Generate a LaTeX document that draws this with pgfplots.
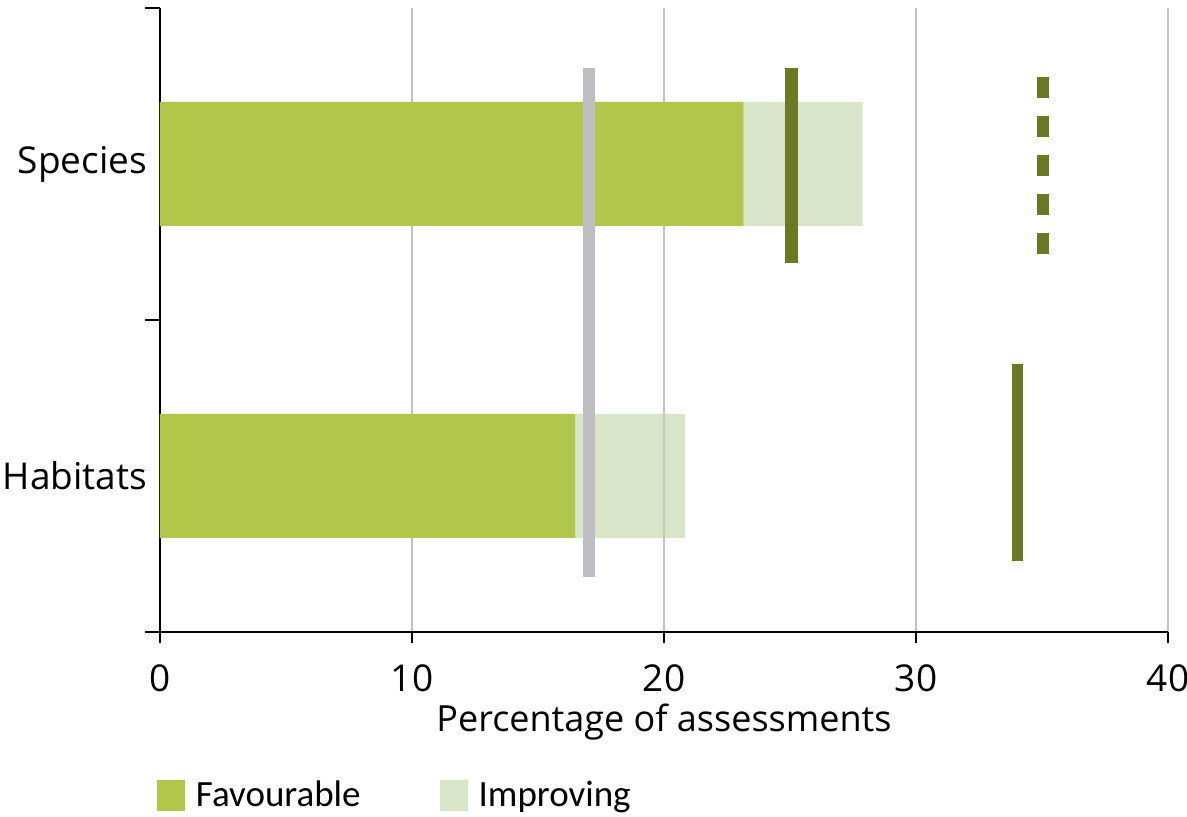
\documentclass[border=0pt]{standalone}
\usepackage{fontspec}
\setmainfont{Open Sans}
\newfontfamily\legfont{Carlito}
\usepackage{pgfplots}
\pgfplotsset{compat=1.18}
\definecolor{fav}{RGB}{178,198,74}
\definecolor{impr}{RGB}{190,212,163}
\definecolor{olive}{RGB}{107,122,34}
\definecolor{lgrey}{RGB}{190,191,194}
\definecolor{gridc}{RGB}{195,195,195}
\begin{document}
\begin{tikzpicture}[font=\fontsize{18.5}{22}\selectfont]
\begin{axis}[
  name=ax, at={(0pt,0pt)}, anchor=south west,
  scale only axis, width=504pt, height=312pt,
  xmin=0, xmax=40, ymin=-0.5, ymax=1.5,
  axis x line*=bottom, axis y line*=left,
  axis line style={black, line width=1pt},
  xtick={0,10,20,30,40},
  ytick={0,1}, yticklabels={Habitats,Species},
  minor ytick={-0.5,0.5,1.5},
  every major y tick/.append style={draw=none},
  tick style={black, line width=1pt},
  tick align=outside,
  major tick length=5.3pt, minor tick length=7.5pt,
  xmajorgrids, major grid style={gridc, line width=1pt},
  /pgf/number format/assume math mode=true,
  xticklabel style={inner sep=0pt, anchor=north, yshift=-10.9pt},
  yticklabel style={inner sep=0pt, anchor=east, xshift=-1pt},
  xlabel={\fontsize{18}{22}\selectfont Percentage of assessments},
  xlabel style={at={(axis description cs:0.5,0)}, anchor=base, yshift=-49.85pt, inner sep=0pt},
  legend image code/.code={\fill[#1] (0pt,-7.75pt) rectangle (14pt,7.75pt);},
  legend style={draw=none, fill=none, inner sep=0pt, outer sep=0pt,
    legend columns=2, font=\legfont\fontsize{18.5}{22}\selectfont,
    at={(axis description cs:0,0)}, anchor=west, xshift=-1.5pt, yshift=-81.5pt,
    nodes={inner sep=0pt},
    /tikz/every odd column/.append style={column sep=5.5pt},
    /tikz/every even column/.append style={column sep=39.5pt}},
]
\addlegendimage{fill=fav, draw=none}
\addlegendentry{Favourable}
\addlegendimage{fill=impr, fill opacity=0.6, draw=none}
\addlegendentry{Improving}
% total (favourable + improving), drawn semi-transparent underneath
\addplot[xbar, bar width=62pt, bar shift=0pt, fill=impr, fill opacity=0.6, draw=none, forget plot]
  coordinates {(27.88,1) (20.83,0)};
% favourable
\addplot[xbar, bar width=62pt, bar shift=0pt, fill=fav, draw=none, forget plot]
  coordinates {(23.15,1) (16.47,0)};
% reference lines
\addplot[lgrey, line width=5.7pt, forget plot] coordinates {(17.02,-0.323) (17.02,1.308)};
\addplot[olive, line width=6.5pt, forget plot] coordinates {(25.04,0.683) (25.04,1.308)};
\addplot[olive, line width=5.8pt, dash pattern=on 10.6pt off 8.9pt, forget plot] coordinates {(35.05,1.278) (35.05,0.708)};
\addplot[olive, line width=5.8pt, forget plot] coordinates {(34.03,-0.271) (34.03,0.358)};
\end{axis}
\pgfresetboundingbox
\path (ax.south west) ++(-80pt,-92.5pt) rectangle ++(593.5pt,408.5pt);
\end{tikzpicture}
\end{document}
